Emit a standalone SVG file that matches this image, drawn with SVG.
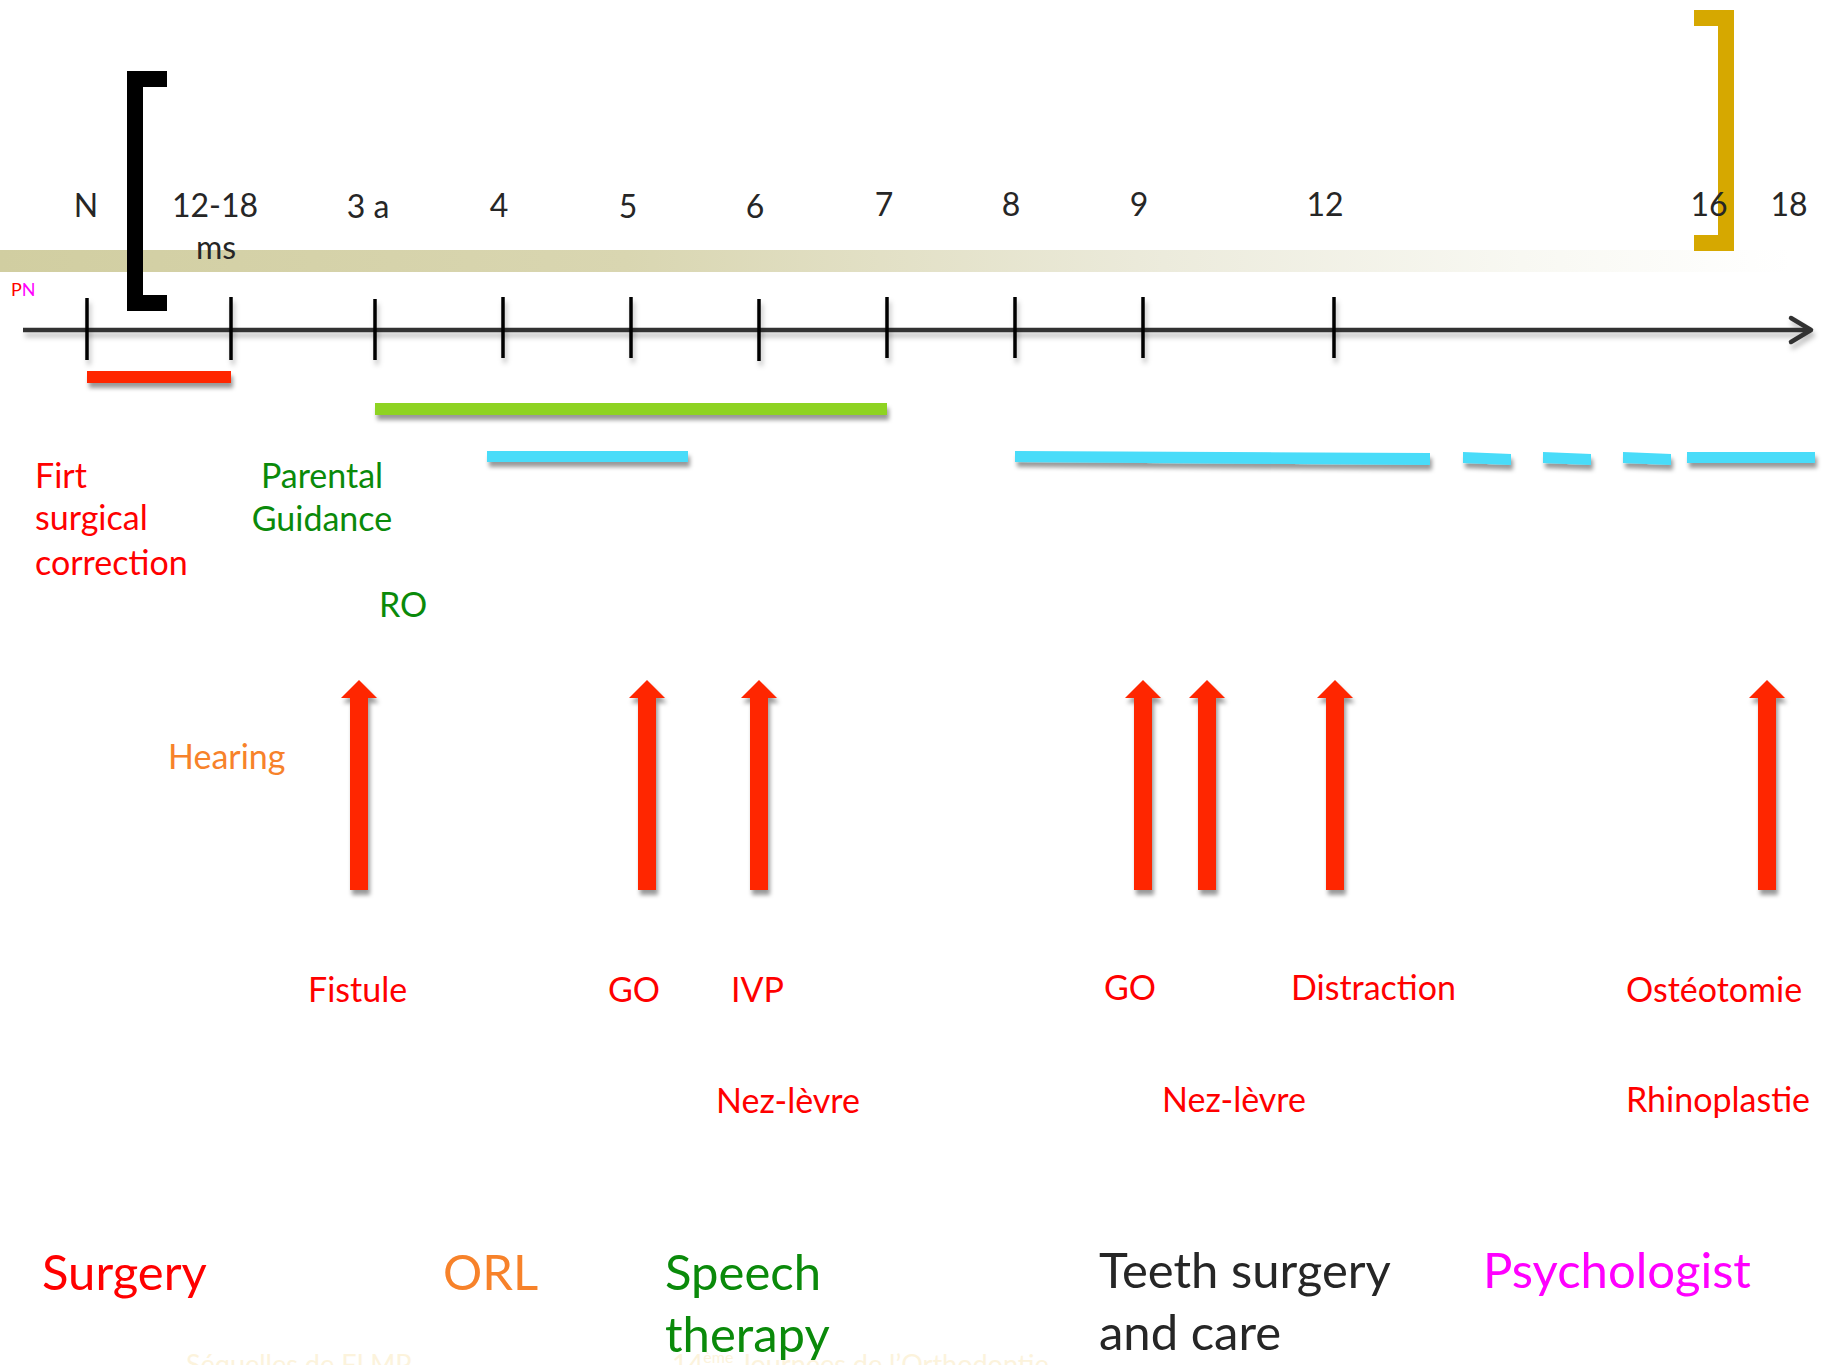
<svg xmlns="http://www.w3.org/2000/svg" width="1835" height="1365" viewBox="0 0 1835 1365">
<defs>
<linearGradient id="band" x1="0" y1="0" x2="1790" y2="0" gradientUnits="userSpaceOnUse">
<stop offset="0" stop-color="#d1cea1"/>
<stop offset="0.35" stop-color="#d9d6b1"/>
<stop offset="0.65" stop-color="#ecebdc"/>
<stop offset="0.85" stop-color="#f8f8f2"/>
<stop offset="1" stop-color="#ffffff"/>
</linearGradient>
<filter id="sh" x="-20%" y="-50%" width="140%" height="200%">
<feDropShadow dx="2" dy="5" stdDeviation="2.2" flood-color="#000" flood-opacity="0.4"/>
</filter>
<filter id="shl" filterUnits="userSpaceOnUse" x="0" y="280" width="1835" height="100">
<feDropShadow dx="2" dy="5" stdDeviation="2.5" flood-color="#000" flood-opacity="0.25"/>
</filter>
<marker id="chev" markerWidth="12" markerHeight="12" refX="9" refY="6" orient="auto" markerUnits="userSpaceOnUse" viewBox="0 0 12 12" overflow="visible">
<path d="M-11,-6 L9,6 L-11,18" fill="none" stroke="#333" stroke-width="4.5" stroke-linecap="round" stroke-linejoin="round"/>
</marker>
<style>
.t{font-family:Lato,"Open Sans","Liberation Sans",sans-serif}
.lab{font-size:32px;fill:#262626;text-anchor:middle}
.red{fill:#ff0000}
.grn{fill:#0a8a0a}
.org{fill:#f7822a}
.mid{font-size:34px}
.big{font-size:49px}
.tick{stroke:#000;stroke-width:3.5}
.arr{fill:#ff2600}
.cy{fill:#48dcf9}
.foot{font-size:27px;fill:#fcf3dc}
</style>
</defs>
<rect width="1835" height="1365" fill="#ffffff"/>

<g id="band-bg">
<rect x="0" y="250" width="1790" height="22" fill="url(#band)"/>
</g>

<g id="brackets">
<path id="bracket-black" d="M127,71 H167 V87 H143 V295 H167 V311 H127 Z" fill="#000"/>
<path id="bracket-gold" d="M1694,10 H1734 V251 H1694 V235 H1718 V26 H1694 Z" fill="#d6a800"/>
</g>

<g id="age-labels" class="t">
<text class="lab" x="86" y="217">N</text>
<text class="lab" x="215" y="217">12-18</text>
<text class="lab" x="216" y="259">ms</text>
<text class="lab" x="368" y="218">3 a</text>
<text class="lab" x="499" y="217">4</text>
<text class="lab" x="628" y="218">5</text>
<text class="lab" x="755" y="218">6</text>
<text class="lab" x="884" y="216">7</text>
<text class="lab" x="1011" y="216">8</text>
<text class="lab" x="1139" y="216">9</text>
<text class="lab" x="1325" y="216">12</text>
<text class="lab" x="1709" y="216">16</text>
<text class="lab" x="1789" y="216">18</text>
<text x="11" y="296" font-size="18" class="t"><tspan fill="#ff0000">P</tspan><tspan fill="#ff00ff">N</tspan></text>
</g>

<g id="connectors">
<g id="axis" filter="url(#shl)">
<line x1="23" y1="330" x2="1811" y2="330" stroke="#333" stroke-width="4.5" marker-end="url(#chev)"/>
</g>
<g id="ticks" filter="url(#shl)">
<line class="tick" x1="87" y1="298" x2="87" y2="360"/>
<line class="tick" x1="231" y1="297" x2="231" y2="360" stroke="#333"/>
<line class="tick" x1="375" y1="299" x2="375" y2="360"/>
<line class="tick" x1="503" y1="297" x2="503" y2="358"/>
<line class="tick" x1="631" y1="297" x2="631" y2="358"/>
<line class="tick" x1="759" y1="299" x2="759" y2="361"/>
<line class="tick" x1="887" y1="297" x2="887" y2="358"/>
<line class="tick" x1="1015" y1="297" x2="1015" y2="358"/>
<line class="tick" x1="1143" y1="297" x2="1143" y2="358"/>
<line class="tick" x1="1334" y1="297" x2="1334" y2="358"/>
</g>
</g>

<g id="period-bars" filter="url(#sh)">
<rect id="bar-surgery" x="87" y="371" width="144" height="12" fill="#ff2600"/>
<rect id="bar-guidance" x="375" y="403" width="512" height="12" fill="#8ed321"/>
<rect id="bar-speech-1" class="cy" x="487" y="451" width="201" height="11"/>
<polygon id="bar-speech-2" class="cy" points="1015,451 1430,453 1430,465 1015,462"/>
<polygon class="cy" points="1463,452 1511,454 1511,465 1463,463"/>
<polygon class="cy" points="1543,452 1591,454 1591,465 1543,463"/>
<polygon class="cy" points="1623,452 1671,454 1671,465 1623,463"/>
<rect class="cy" x="1687" y="452" width="128" height="11"/>
</g>

<g id="event-arrows" filter="url(#sh)">
<polygon class="arr" points="359,680 377,698 368,698 368,890 350,890 350,698 341,698"/>
<polygon class="arr" points="647,680 665,698 656,698 656,890 638,890 638,698 629,698"/>
<polygon class="arr" points="759,680 777,698 768,698 768,890 750,890 750,698 741,698"/>
<polygon class="arr" points="1143,680 1161,698 1152,698 1152,890 1134,890 1134,698 1125,698"/>
<polygon class="arr" points="1207,680 1225,698 1216,698 1216,890 1198,890 1198,698 1189,698"/>
<polygon class="arr" points="1335,680 1353,698 1344,698 1344,890 1326,890 1326,698 1317,698"/>
<polygon class="arr" points="1767,680 1785,698 1776,698 1776,890 1758,890 1758,698 1749,698"/>
</g>

<g id="first-surgical-correction" class="t red mid">
<text x="35" y="488">Firt</text>
<text x="35" y="530">surgical</text>
<text x="35" y="575">correction</text>
</g>
<g id="parental-guidance" class="t grn mid" text-anchor="middle">
<text x="322" y="488">Parental</text>
<text x="322" y="531">Guidance</text>
</g>
<g id="ro" class="t grn mid"><text x="379" y="617">RO</text></g>
<g id="hearing" class="t org mid"><text x="168" y="769">Hearing</text></g>

<g id="events" class="t red mid">
<text id="ev-fistule" x="308" y="1002">Fistule</text>
<text id="ev-go1" x="608" y="1002">GO</text>
<text id="ev-ivp" x="731" y="1002">IVP</text>
<text id="ev-go2" x="1104" y="1000">GO</text>
<text id="ev-distraction" x="1291" y="1000">Distraction</text>
<text id="ev-osteotomie" x="1626" y="1002">Ostéotomie</text>
<text id="ev-nez1" x="716" y="1113">Nez-lèvre</text>
<text id="ev-nez2" x="1162" y="1112">Nez-lèvre</text>
<text id="ev-rhino" x="1626" y="1112">Rhinoplastie</text>
</g>

<g id="footer" class="t foot">
<text x="186" y="1374">Séquelles de FLMP</text>
<text x="672" y="1374">14<tspan font-size="16" dy="-11">ème</tspan><tspan dy="11"> Journées de l’Orthodontie</tspan></text>
</g>

<g id="legend" class="t big">
<text id="lg-surgery" class="red" x="42" y="1290">Surgery</text>
<text id="lg-orl" class="org" x="443" y="1290">ORL</text>
<text id="lg-speech" class="grn" x="665" y="1290">Speech<tspan x="665" y="1352">therapy</tspan></text>
<text id="lg-teeth" fill="#262626" x="1099" y="1288">Teeth surgery<tspan x="1099" y="1350">and care</tspan></text>
<text id="lg-psy" fill="#ff00ff" x="1483" y="1288">Psychologist</text>
</g>
</svg>
